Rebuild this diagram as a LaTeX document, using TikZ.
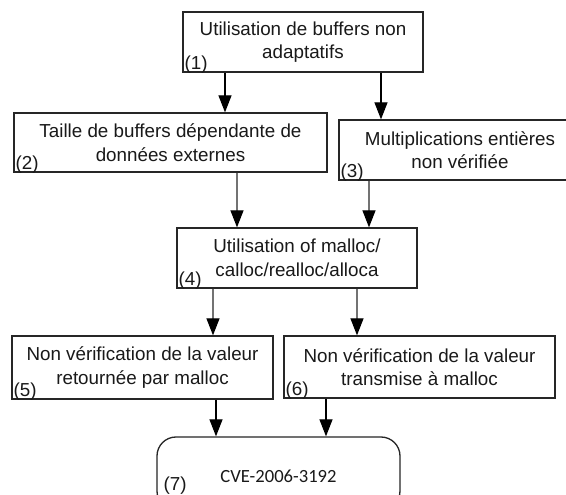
\documentclass[tikz,border=0pt]{standalone}
\usepackage{fontspec}
\setmainfont{Liberation Sans}
\newfontfamily\cvefont{Carlito}
\usetikzlibrary{arrows.meta,calc}
\begin{document}
\begin{tikzpicture}[x=1pt,y=-1pt,
  box/.style={draw=black!85,line width=1.3pt,rectangle,inner sep=0pt,
    font=\fontsize{18.8}{23.5}\selectfont,align=center,text=black!90},
  lab/.style={font=\fontsize{18.8}{20}\selectfont,inner sep=0pt,anchor=base west,text=black!90},
  arr/.style={line width=1.2pt,draw=black,-{Triangle[length=17pt,width=13pt,color=black]}},
  garr/.style={line width=1.2pt,draw=black!55,-{Triangle[length=17pt,width=13pt,color=black]}}]
\useasboundingbox (0,0) rectangle (566,495);
\fill[white] (0,0) rectangle (566,495);
% boxes
\node[box,minimum width=240pt,minimum height=60pt] (b1) at (303,42)
  {Utilisation de buffers non\\adaptatifs};
\node[box,minimum width=313pt,minimum height=59pt] (b2) at (170.5,142.5)
  {Taille de buffers dépendante de\\données externes};
\node[box,minimum width=242pt,minimum height=60pt] (b3) at (460,150)
  {Multiplications entières\\non vérifiée};
\node[box,minimum width=240pt,minimum height=60pt] (b4) at (297,258)
  {Utilisation of malloc/\\calloc/realloc/alloca};
\node[box,minimum width=261pt,minimum height=63pt] (b5) at (142.5,367.5)
  {Non vérification de la valeur\\retournée par malloc};
\node[box,minimum width=271pt,minimum height=62pt] (b6) at (419.5,367)
  {Non vérification de la valeur\\transmise à malloc};
\node[box,rounded corners=19pt,minimum width=243pt,minimum height=73pt] (b7) at (278.5,473.5) {};
\node[font=\cvefont\fontsize{18.6}{20}\selectfont,inner sep=0pt,anchor=base,text=black!90] (t7) at (278.5,482) {CVE-2006-3192};
% labels
\node[lab] (l1) at ([shift={(2,-3)}]b1.south west) {(1)};
\node[lab] (l2) at ([shift={(2,-3)}]b2.south west) {(2)};
\node[lab] (l3) at ([shift={(2,-3)}]b3.south west) {(3)};
\node[lab] (l4) at ([shift={(2,-3)}]b4.south west) {(4)};
\node[lab] (l5) at ([shift={(2,-3)}]b5.south west) {(5)};
\node[lab] (l6) at ([shift={(2,-3)}]b6.south west) {(6)};
\node[lab] (l7) at ([shift={(7,54)}]b7.north west) {(7)};
% connectors
\draw[arr] ([xshift=-78]b1.south) -- ([xshift=-78]b1.south |- b2.north);
\draw[arr] ([xshift=78]b1.south) -- ([xshift=78]b1.south |- b3.north);
\draw[garr] ([xshift=66.5]b2.south) -- ([xshift=-60]b4.north);
\draw[garr] ([xshift=-91]b3.south) -- ([xshift=72]b4.north);
\draw[garr] ([xshift=-84]b4.south) -- ([xshift=-84]b4.south |- b5.north);
\draw[garr] ([xshift=60]b4.south) -- ([xshift=60]b4.south |- b6.north);
\draw[arr] ([xshift=73.5]b5.south) -- ([xshift=-62.5]b7.north);
\draw[arr] ([xshift=-93.5]b6.south) -- ([xshift=47.5]b7.north);
\end{tikzpicture}
\end{document}
